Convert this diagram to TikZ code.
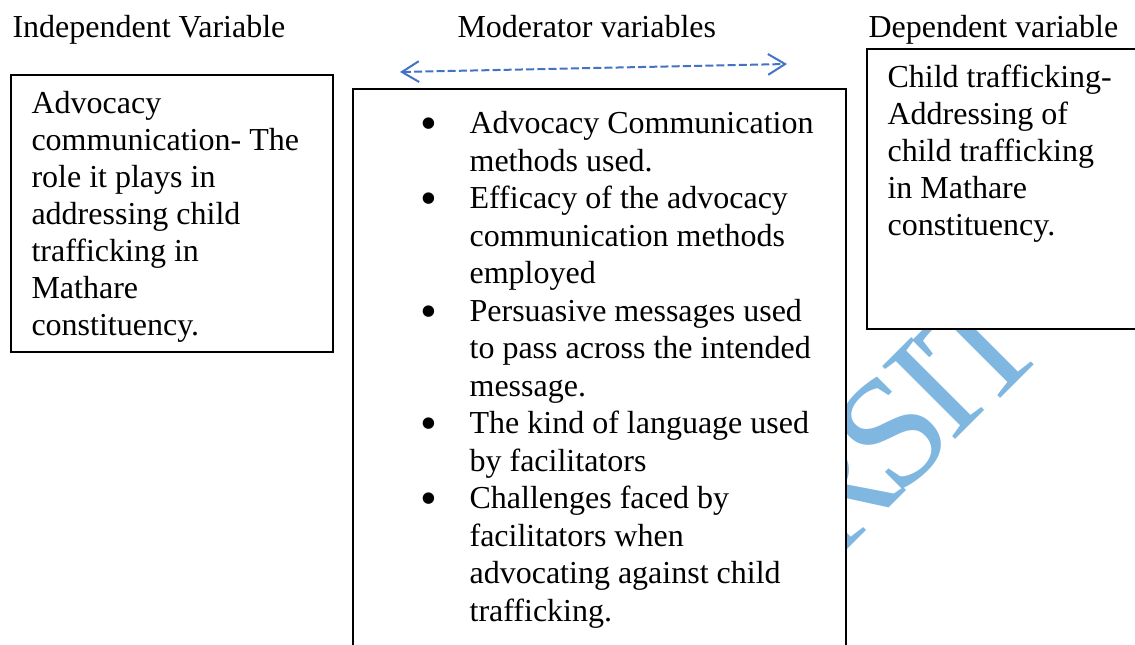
\documentclass[tikz,border=0pt]{standalone}
\usepackage{fontspec}
\setmainfont{Liberation Serif}
\usetikzlibrary{arrows.meta}
\definecolor{wmblue}{HTML}{7FB7E0}
\definecolor{arrowblue}{HTML}{4472C4}
\newcommand{\bulletmark}{\makebox[18.4pt][l]{\raisebox{-2.2pt}{\fontsize{18}{18}\selectfont\textbullet}}}
\newcommand{\nobullet}{\hspace*{18.4pt}}

\begin{document}
\begin{tikzpicture}[x=0.375pt,y=-0.375pt,
  body/.style={font=\fontsize{12}{13.875}\selectfont, inner sep=0pt, anchor=north west, align=left},
  listbody/.style={body, font=\fontsize{12}{14.06}\selectfont},
  frame/.style={draw=black, line width=0.65pt, fill=white, inner sep=0pt, anchor=north west},
  title/.style={font=\fontsize{12}{13.875}\selectfont, inner sep=0pt, anchor=base west},
  wm/.style={font=\fontsize{59}{59}\selectfont, text=wmblue, rotate=45, anchor=center, inner sep=0pt},
  link/.style={draw=arrowblue, line width=0.75pt, dash pattern=on 3pt off 1.2pt,
    {Straight Barb[length=6.4pt,width=7.8pt]}-{Straight Barb[length=6.4pt,width=7.8pt]}},
]
\clip (0,0) rectangle (1135,644);
\fill[white] (0,0) rectangle (1135,644);

% watermark lettering, partly covered by the boxes
\node[wm] (wmR) at (833.5,490.5) {R};
\node[wm] (wmS) at (892,432) {S};
\node[wm] (wmI) at (933.5,388.5) {I};
\node[wm] (wmT) at (980.6,344.6) {T};

% headings
\node[title] (t1) at (12,37) {Independent Variable};
\node[title] (t2) at (457,37) {Moderator variables};
\node[title] (t3) at (868,37) {Dependent variable};

% boxes
\node[frame, minimum width=120.75pt, minimum height=103.9pt] (indep) at (10,74) {};
\node[frame, minimum width=184.9pt, minimum height=214.5pt] (moder) at (352,88) {};
\node[frame, minimum width=104.6pt, minimum height=105pt] (dep) at (866,48) {};

% box contents
\node[body] (ltext) at (31,91) {Advocacy\\communication- The\\role it plays in\\addressing child\\trafficking in\\Mathare\\constituency.};
\node[listbody] (mtext) at (420,111) {%
\bulletmark Advocacy Communication\\
\nobullet methods used.\\
\bulletmark Efficacy of the advocacy\\
\nobullet communication methods\\
\nobullet employed\\
\bulletmark Persuasive messages used\\
\nobullet to pass across the intended\\
\nobullet message.\\
\bulletmark The kind of language used\\
\nobullet by facilitators\\
\bulletmark Challenges faced by\\
\nobullet facilitators when\\
\nobullet advocating against child\\
\nobullet trafficking.};
\node[body] (rtext) at (887,64) {Child trafficking-\\Addressing of\\child trafficking\\in Mathare\\constituency.};

% two-way moderator arrow
\coordinate (aL) at (400,72);
\coordinate (aR) at (787,64);
\draw[link] (aL) -- (aR);
\end{tikzpicture}
\end{document}
